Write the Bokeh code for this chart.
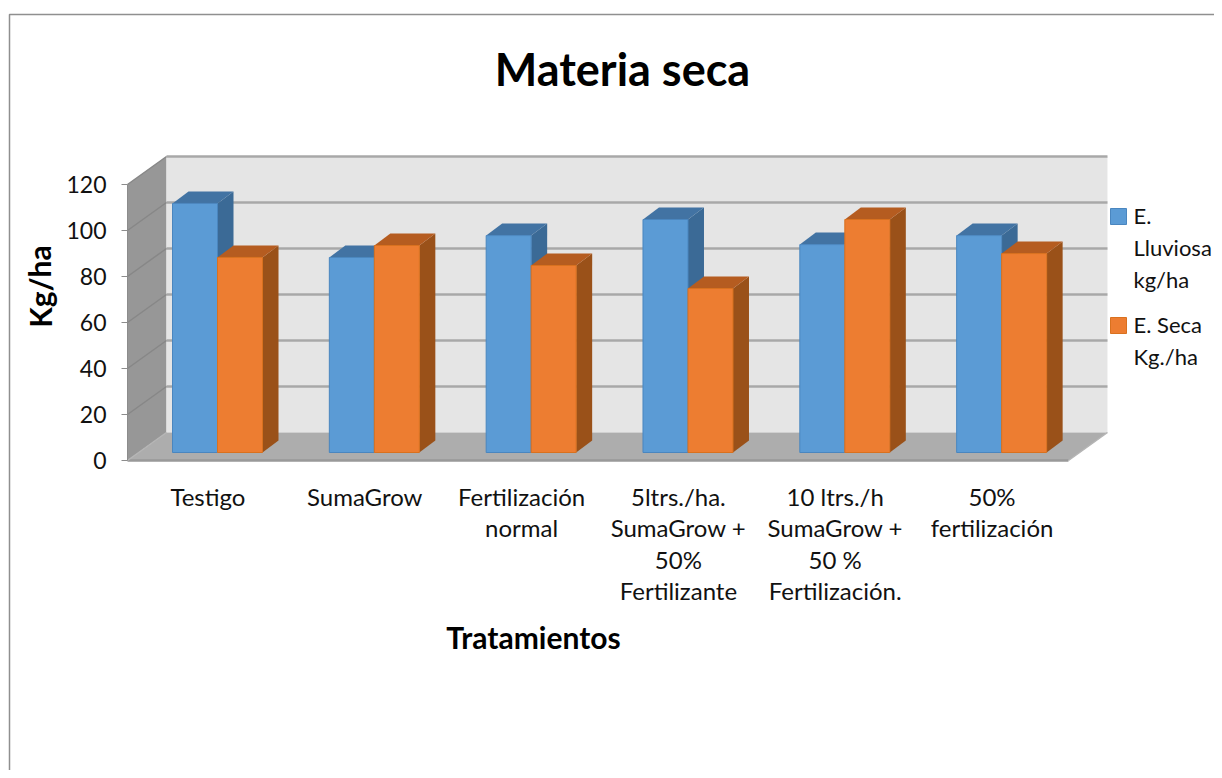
from bokeh.plotting import figure
from bokeh.models import ColumnDataSource, FixedTicker, Range1d
from bokeh.core.properties import value
from bokeh.embed import file_html
from bokeh.resources import INLINE

# ---- data -------------------------------------------------------------
categories = ["Testigo", "SumaGrow", "Fertilización\nnormal",
              "5ltrs./ha.\nSumaGrow +\n50%\nFertilizante",
              "10 ltrs./h\nSumaGrow +\n50 %\nFertilización.",
              "50%\nfertilización"]
lluviosa = [108.3, 84.8, 94.3, 101.3, 90.4, 94.3]
seca = [84.8, 90.0, 81.3, 71.3, 101.3, 86.5]
y_ticks = [0, 20, 40, 60, 80, 100, 120]
chart_title = "Materia seca"
x_title = "Tratamientos"
y_title = "Kg/ha"
legend_labels = ["E.\nLluviosa\nkg/ha", "E. Seca\nKg./ha"]

# ---- layout (picture pixels) ------------------------------------------
W, H = 1214, 770
ORG_X, ORG_Y = 127, 460      # front corner of the axes
CAT = 156.83                 # px per category
UNIT = 2.3                   # px per value unit
WALL_DX, WALL_DY = 39, 28    # depth of the walls
BAR_OFF_DX, BAR_OFF_DY = 11, 8
BAR_DX, BAR_DY = 16, 12
BAR_W, BAR_GAP = 45, 34
FONT = value("Lato")
TXT = "#111111"


def dx(px):
    return px / CAT


def dy(px):
    return px / UNIT


def X(px):
    return (px - ORG_X) / CAT


def Y(px):
    return (ORG_Y - px) / UNIT


p = figure(width=W, height=H, output_backend="svg", toolbar_location=None,
           x_range=Range1d(X(0), X(W)), y_range=Range1d(Y(H), Y(0)),
           x_axis_location=None, y_axis_location="left",
           min_border=0, outline_line_color=None, background_fill_color="white")
p.grid.visible = False

n = len(categories)

# chart border
p.line([X(9), X(9), X(W)], [Y(H), Y(14), Y(14)], line_color="#8f8f8f", line_width=1.5)

# walls and floor
wall_top = y_ticks[-1]
p.patch([0, 0, dx(WALL_DX), dx(WALL_DX)],
        [0, wall_top, wall_top + dy(WALL_DY), dy(WALL_DY)], fill_color="#979797", line_color=None)
p.patch([dx(WALL_DX), dx(WALL_DX), n + dx(WALL_DX), n + dx(WALL_DX)],
        [dy(WALL_DY), wall_top + dy(WALL_DY), wall_top + dy(WALL_DY), dy(WALL_DY)],
        fill_color="#e5e5e5", line_color=None)
p.patch([0, dx(WALL_DX), n + dx(WALL_DX), n],
        [0, dy(WALL_DY), dy(WALL_DY), 0], fill_color="#adadad", line_color=None)

# gridlines
for t in y_ticks[1:]:
    p.line([dx(WALL_DX), n + dx(WALL_DX)], [t + dy(WALL_DY)] * 2, line_color="#a8a8a8", line_width=2.5)
    p.line([0, dx(WALL_DX)], [t, t + dy(WALL_DY)], line_color="#878787", line_width=1.5)
p.line([0, n], [0, 0], line_color="#999999", line_width=2.5)
p.line([0, dx(WALL_DX)], [0, dy(WALL_DY)], line_color="#b5b5b5", line_width=1.5)
p.line([n, n + dx(WALL_DX)], [0, dy(WALL_DY)], line_color="#b5b5b5", line_width=1.5)

# bars
series = [(lluviosa, 0, "#5b9bd5", "#4273a3", "#3b6a96", "#4a86bf"),
          (seca, 1, "#ed7d31", "#b55c20", "#9a5119", "#d9711f")]
base = dy(BAR_OFF_DY)
for i in range(n):
    for vals, k, front, top_c, side_c, edge in series:
        v = vals[i]
        l = i + dx(BAR_OFF_DX + BAR_GAP + k * BAR_W)
        r = l + dx(BAR_W)
        t = base + v
        p.patch([r, r + dx(BAR_DX), r + dx(BAR_DX), r],
                [base, base + dy(BAR_DY), t + dy(BAR_DY), t], fill_color=side_c, line_color=None)
        p.patch([l, l + dx(BAR_DX), r + dx(BAR_DX), r],
                [t, t + dy(BAR_DY), t + dy(BAR_DY), t], fill_color=top_c, line_color=None)
        p.quad(left=l, right=r, bottom=base, top=t, fill_color=front, line_color=edge, line_width=1)

# y axis
ax = p.yaxis[0]
ax.fixed_location = 0
ax.bounds = (y_ticks[0], y_ticks[-1])
ax.ticker = FixedTicker(ticks=y_ticks)
ax.minor_tick_line_color = None
ax.major_tick_in = 0
ax.major_tick_out = 6
ax.major_tick_line_color = "#8c8c8c"
ax.axis_line_color = "#8c8c8c"
ax.major_label_standoff = 15
ax.major_label_text_font = "Lato"
ax.major_label_text_font_size = "23px"
ax.major_label_text_color = TXT

# category labels
cat_src = ColumnDataSource(dict(x=[i + 0.5 + dx(2) for i in range(n)],
                                y=[Y(481)] * n, t=categories))
p.text("x", "y", text="t", source=cat_src, text_font=FONT, text_font_size="24px", text_color=TXT,
       text_align="center", text_baseline="top", text_line_height=1.09)

# titles
p.text([X(622)], [Y(68)], text=[chart_title], text_font=FONT, text_font_size="45px",
       text_font_style="bold", text_color="#000000", text_align="center", text_baseline="middle")
p.text([X(533)], [Y(636)], text=[x_title], text_font=FONT, text_font_size="30px",
       text_font_style="bold", text_color="#000000", text_align="center", text_baseline="middle")
p.text([X(39)], [Y(286)], text=[y_title], angle=1.5708, text_font=FONT, text_font_size="30px",
       text_font_style="bold", text_color="#000000", text_align="center", text_baseline="middle")

# legend
for label, y_top, (_, _, front, _, _, edge) in zip(legend_labels, [208, 317], series):
    p.quad(left=X(1110), right=X(1126), top=Y(y_top), bottom=Y(y_top + 16),
           fill_color=front, line_color=edge)
    p.text([X(1133)], [Y(y_top - 7)], text=[label], text_font=FONT, text_font_size="22px", text_color=TXT,
           text_align="left", text_baseline="top", text_line_height=1.19)

open("out.html", "w").write(file_html(p, INLINE))
